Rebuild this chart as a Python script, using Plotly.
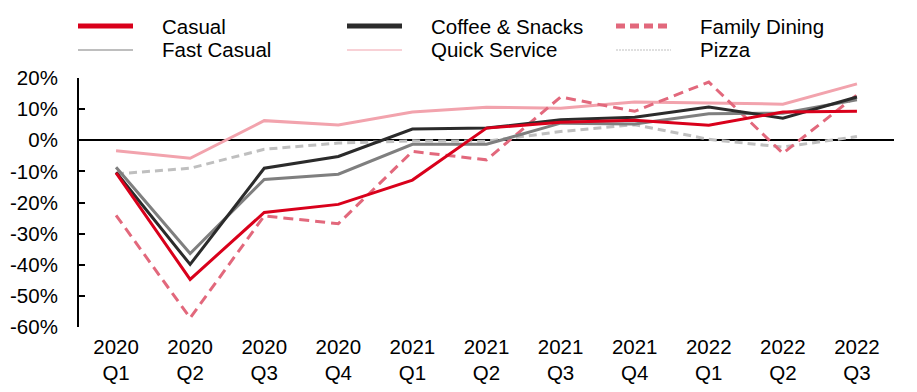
import plotly.graph_objects as go

quarters = ["2020<br>Q1", "2020<br>Q2", "2020<br>Q3", "2020<br>Q4",
            "2021<br>Q1", "2021<br>Q2", "2021<br>Q3", "2021<br>Q4",
            "2022<br>Q1", "2022<br>Q2", "2022<br>Q3"]

casual = [-10.5, -44.7, -23.2, -20.6, -12.8, 3.9, 5.8, 6.4, 4.8, 9.1, 9.3]
coffee_snacks = [-10.3, -39.9, -9.0, -5.2, 3.6, 3.9, 6.6, 7.4, 10.7, 7.1, 13.9]
family_dining = [-24.1, -57.1, -24.3, -26.8, -3.6, -6.3, 13.9, 9.3, 18.7, -4.2, 14.6]
fast_casual = [-8.7, -36.4, -12.6, -10.9, -1.3, -1.3, 5.5, 5.2, 8.5, 8.7, 13.0]
quick_service = [-3.4, -5.8, 6.3, 4.9, 9.1, 10.6, 10.3, 12.3, 12.0, 11.6, 18.1]
pizza = [-10.8, -9.0, -2.9, -0.9, -0.2, -0.3, 2.8, 5.0, 0.3, -2.2, 1.2]

y_tick_vals = [20, 10, 0, -10, -20, -30, -40, -50, -60]
y_tick_text = ["20%", "10%", "0%", "-10%", "-20%", "-30%", "-40%", "-50%", "-60%"]

series = {
    "Casual": casual,
    "Coffee & Snacks": coffee_snacks,
    "Family Dining": family_dining,
    "Fast Casual": fast_casual,
    "Quick Service": quick_service,
    "Pizza": pizza,
}
legend_order = ["Casual", "Coffee & Snacks", "Family Dining",
                "Fast Casual", "Quick Service", "Pizza"]

styles = {
    # plot color, plot dash, legend width, legend dash
    "Casual": ("#D9001B", "solid", 5, "solid"),
    "Coffee & Snacks": ("#2B2B2B", "solid", 5, "solid"),
    "Family Dining": ("#E2687C", "10px,6px", 5, "9px,5px"),
    "Fast Casual": ("#7F7F7F", "solid", 1.2, "solid"),
    "Quick Service": ("#F2A3AD", "solid", 1.2, "solid"),
    "Pizza": ("#BFBFBF", "8px,5px", 1.2, "2px,1px"),
}

draw_order = ["Quick Service", "Pizza", "Family Dining", "Fast Casual",
              "Coffee & Snacks", "Casual"]

# page has an 8px body margin, so the figure is drawn 8px smaller/offset
OFF = 8
W, H = 917 - OFF, 392 - OFF
L, R, T, B = 79 - OFF, 23, 78 - OFF, 65
pw, ph = W - L - R, H - T - B


def px_x(px):
    return (px - OFF - L) / pw


def px_y(py):
    return (H - B - (py - OFF)) / ph


fig = go.Figure()
for nm in draw_order:
    color, dash, _, _ = styles[nm]
    fig.add_trace(go.Scatter(
        x=quarters, y=series[nm], mode="lines", name=nm, showlegend=False,
        line=dict(color=color, width=3, dash=dash), hoverinfo="skip"))

font = dict(family="Liberation Sans, Arial, sans-serif", size=20.5, color="#000000")

# custom legend (3 columns x 2 rows), reference-page pixel positions
col_x = [78, 347, 616]
row_y = [26, 50]
shapes = []
annotations = []
for i, nm in enumerate(legend_order):
    r, c = divmod(i, 3)
    color, _, lw, ldash = styles[nm]
    x0 = col_x[c]
    y0 = row_y[r]
    shapes.append(dict(type="line", xref="paper", yref="paper",
                       x0=px_x(x0), x1=px_x(x0 + 55), y0=px_y(y0), y1=px_y(y0),
                       line=dict(color=color, width=lw, dash=ldash)))
    annotations.append(dict(xref="paper", yref="paper", x=px_x(x0 + 82),
                            y=px_y(y0), text=nm, showarrow=False,
                            xanchor="left", yanchor="middle", font=font))

fig.update_layout(
    width=W, height=H,
    margin=dict(l=L, r=R, t=T, b=B, autoexpand=False),
    paper_bgcolor="white", plot_bgcolor="white",
    font=font, showlegend=False,
    shapes=shapes, annotations=annotations,
    xaxis=dict(type="category", range=[-0.5, 10.5], showgrid=False,
               showline=False, ticks="", tickfont=font, fixedrange=True,
               ticklabelstandoff=5),
    yaxis=dict(range=[-60, 20], tickmode="array", tickvals=y_tick_vals,
               ticktext=y_tick_text, showgrid=False,
               showline=True, linecolor="black", linewidth=2,
               ticks="inside", ticklen=6, tickwidth=2, tickcolor="black",
               zeroline=True, zerolinecolor="black", zerolinewidth=2,
               ticklabelstandoff=15,
               tickfont=font, fixedrange=True),
)

fig.write_html("out.html")
